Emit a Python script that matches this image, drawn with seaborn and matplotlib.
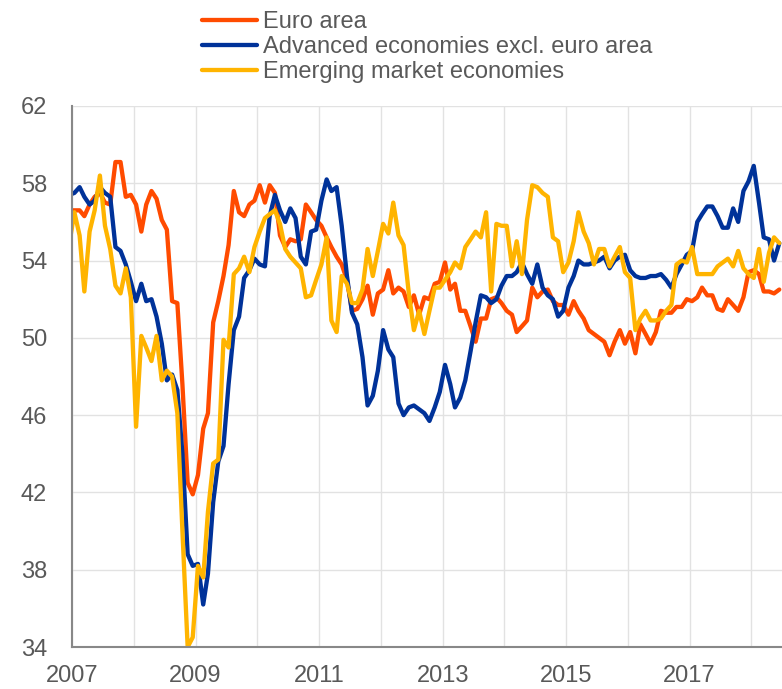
import pandas as pd
import numpy as np
import matplotlib
matplotlib.use('Agg')
import matplotlib.pyplot as plt
import matplotlib.dates as mdates
import seaborn as sns


# monthly readings, Dec 2006 .. Jun 2018 (the Dec 2006 point sits just left of the axis)
euro_area = [56.6,
    56.6, 56.6, 56.3, 56.9, 57.3, 57.5, 57.0, 56.9, 59.1, 59.1, 57.3, 57.4,
    56.9, 55.5, 56.9, 57.6, 57.2, 56.1, 55.6, 51.9, 51.8, 47.6, 42.5, 41.9,
    42.9, 45.3, 46.1, 50.8, 51.9, 53.2, 54.8, 57.6, 56.5, 56.3, 56.9, 57.1,
    57.9, 57.0, 57.9, 57.5, 55.3, 54.7, 55.1, 55.0, 55.1, 56.9, 56.5, 56.1,
    55.8, 55.2, 54.7, 54.2, 53.8, 53.0, 51.4, 51.5, 52.0, 52.7, 51.2, 52.3,
    52.5, 53.5, 52.3, 52.6, 52.4, 51.6, 52.2, 51.2, 52.1, 52.0, 52.8, 52.9,
    53.9, 52.5, 52.8, 51.4, 51.4, 50.6, 49.8, 51.0, 51.0, 52.0, 52.1, 51.8,
    51.4, 51.2, 50.3, 50.6, 50.9, 52.6, 52.1, 52.4, 52.5, 51.9, 51.7, 51.7,
    51.2, 51.9, 51.4, 51.0, 50.4, 50.2, 50.0, 49.8, 49.1, 49.8, 50.4, 49.7,
    50.3, 49.2, 50.7, 50.2, 49.7, 50.3, 51.4, 51.3, 51.3, 51.6, 51.6, 52.0,
    51.9, 52.1, 52.6, 52.2, 52.2, 51.5, 51.4, 52.0, 51.7, 51.4, 52.1, 53.4,
    53.5, 53.3, 52.4, 52.4, 52.3, 52.5]

advanced_ex_euro = [57.4,
    57.5, 57.8, 57.3, 56.9, 57.1, 57.8, 57.5, 57.3, 54.7, 54.5, 53.8, 52.9,
    51.9, 52.8, 51.9, 52.0, 51.1, 49.7, 47.8, 48.1, 47.3, 44.0, 38.8, 38.2,
    38.3, 36.2, 37.8, 41.5, 43.6, 44.4, 47.6, 50.4, 51.1, 53.1, 53.5, 54.1,
    53.8, 53.7, 56.3, 57.4, 56.6, 56.0, 56.7, 56.2, 54.2, 53.8, 55.5, 55.6,
    57.1, 58.2, 57.6, 57.8, 55.8, 53.2, 51.3, 50.7, 49.0, 46.5, 47.0, 48.3,
    50.4, 49.4, 49.0, 46.6, 46.0, 46.4, 46.5, 46.3, 46.1, 45.7, 46.4, 47.2,
    48.6, 47.6, 46.4, 46.9, 47.8, 49.3, 50.8, 52.2, 52.1, 51.8, 52.0, 52.7,
    53.2, 53.2, 53.4, 53.9, 53.3, 52.8, 53.8, 52.6, 52.2, 52.0, 51.1, 51.4,
    52.6, 53.2, 54.0, 53.8, 53.8, 53.9, 54.0, 54.2, 53.6, 54.0, 54.2, 54.3,
    53.5, 53.2, 53.1, 53.1, 53.2, 53.2, 53.3, 53.0, 52.6, 53.3, 53.8, 54.3,
    54.5, 56.0, 56.4, 56.8, 56.8, 56.3, 55.7, 55.7, 56.7, 56.0, 57.6, 58.1,
    58.9, 57.0, 55.2, 55.1, 54.0, 54.9]

emerging = [54.8,
    56.5, 55.3, 52.4, 55.5, 56.6, 58.4, 55.8, 54.6, 52.7, 52.3, 53.6, 52.1,
    45.4, 50.1, 49.5, 48.8, 50.1, 47.8, 48.3, 48.0, 46.1, 40.0, 34.0, 34.5,
    38.2, 37.6, 41.0, 43.5, 43.7, 49.9, 49.5, 53.3, 53.6, 54.2, 53.4, 54.7,
    55.5, 56.2, 56.4, 56.6, 55.9, 54.6, 54.2, 53.9, 53.6, 52.1, 52.2, 53.0,
    53.8, 55.2, 50.9, 50.3, 53.2, 52.8, 51.8, 51.8, 52.5, 54.6, 53.2, 54.5,
    55.9, 55.4, 57.0, 55.3, 54.8, 52.3, 50.4, 51.4, 50.2, 51.4, 52.6, 52.6,
    53.0, 53.4, 53.9, 53.6, 54.7, 55.1, 55.5, 55.2, 56.5, 52.4, 55.9, 55.8,
    55.8, 53.7, 55.0, 53.3, 56.1, 57.9, 57.8, 57.5, 57.3, 55.2, 55.0, 53.4,
    53.9, 55.0, 56.5, 55.5, 54.9, 53.8, 54.6, 54.6, 53.7, 54.2, 54.7, 53.4,
    53.1, 50.4, 51.0, 51.4, 50.9, 50.9, 51.0, 51.4, 51.7, 53.8, 54.0, 53.9,
    54.7, 53.3, 53.3, 53.3, 53.3, 53.7, 53.9, 54.1, 53.7, 54.5, 53.6, 53.3,
    53.1, 54.6, 52.9, 54.4, 55.2, 54.9]

series_names = ['Euro area', 'Advanced economies excl. euro area',
                'Emerging market economies']
series_colors = ['#ff4b00', '#003299', '#ffb400']
y_ticks = [34, 38, 42, 46, 50, 54, 58, 62]
label_years = [2007, 2009, 2011, 2013, 2015, 2017]
grid_years = list(range(2007, 2019))

# values are plotted in the middle of each month
dates = pd.date_range('2006-12-01', periods=len(euro_area), freq='MS') + pd.Timedelta(days=14)

df = pd.DataFrame({'date': dates,
                   series_names[0]: euro_area,
                   series_names[1]: advanced_ex_euro,
                   series_names[2]: emerging})
df = df.melt(id_vars='date', var_name='series', value_name='value')

sns.set_theme(style='white')
plt.rcParams['font.family'] = ['Liberation Sans', 'DejaVu Sans']

fig = plt.figure(figsize=(7.82, 6.89), dpi=100)
ax = fig.add_axes([72 / 782, 42 / 689, 710 / 782, 541 / 689])

sns.lineplot(data=df, x='date', y='value', hue='series', hue_order=series_names,
             palette=dict(zip(series_names, series_colors)), linewidth=3.1, ax=ax)

ax.set_xlim(mdates.date2num(pd.Timestamp('2007-01-01')),
            mdates.date2num(pd.Timestamp('2018-07-01')))
ax.set_ylim(34, 62)
ax.set_yticks(y_ticks)
ax.set_xticks([mdates.date2num(pd.Timestamp(f'{y}-01-01')) for y in label_years])
ax.set_xticklabels([str(y) for y in label_years])
ax.set_xticks([mdates.date2num(pd.Timestamp(f'{y}-01-01')) for y in grid_years], minor=True)
ax.set_xlabel('')
ax.set_ylabel('')

ax.set_axisbelow(True)
ax.grid(axis='x', which='both', color='#e2e2e2', linewidth=1)
ax.grid(axis='y', which='major', color='#e2e2e2', linewidth=1)

ax.tick_params(axis='x', which='minor', length=0)
ax.tick_params(axis='both', which='major', labelsize=17, labelcolor='#595959',
               length=6, width=1.5, color='#888888', direction='out')
ax.tick_params(axis='x', which='major', pad=7)
ax.tick_params(axis='y', which='major', pad=12)

for side in ['top', 'right']:
    ax.spines[side].set_visible(False)
for side in ['left', 'bottom']:
    ax.spines[side].set_color('#888888')
    ax.spines[side].set_linewidth(1.5)

handles, labels = ax.get_legend_handles_labels()
leg = ax.legend(handles, labels, loc='upper left',
                bbox_to_anchor=(202 / 782, 1 - 11 / 689), bbox_transform=fig.transFigure,
                frameon=False, fontsize=17, handlelength=2.35, handletextpad=0.22,
                labelspacing=0.13, borderpad=0, borderaxespad=0, labelcolor='#595959')
for line in leg.get_lines():
    line.set_linewidth(3.1)

fig.savefig('out.png', dpi=100)
